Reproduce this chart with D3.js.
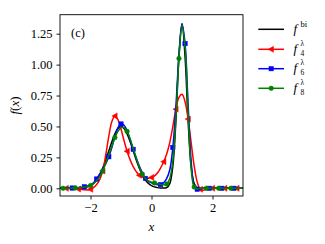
<!DOCTYPE html>
<html><head><meta charset="utf-8">
<script src="https://cdn.jsdelivr.net/npm/d3@7"></script>
<style>
body{margin:0;background:#fff}
svg{display:block}
svg text{font-family:"Liberation Serif","Times New Roman",Times,"DejaVu Serif",serif !important;fill:#000}
</style>
</head><body>
<svg id="chart" width="325" height="244"></svg>
<script>
// ---- data ----
const xGrid = [-3.0,-2.9,-2.8,-2.7,-2.6,-2.5,-2.4,-2.3,-2.2,-2.1,-2.0,-1.9,-1.8,-1.7,-1.6,-1.5,-1.4,-1.3,-1.2,-1.1,-1.0,-0.9,-0.8,-0.7,-0.6,-0.5,-0.4,-0.3,-0.2,-0.1,0.0,0.1,0.2,0.3,0.4,0.5,0.6,0.7,0.8,0.9,1.0,1.1,1.2,1.3,1.4,1.5,1.6,1.7,1.8,1.9,2.0,2.1,2.2,2.3,2.4,2.5,2.6,2.7,2.8,2.9,3.0];
const fBi = [0,0,0,0,0,0.0004,0.001,0.0025,0.0055,0.0114,0.0219,0.0397,0.0675,0.1079,0.1619,0.2283,0.3025,0.3764,0.4401,0.4834,0.4987,0.4834,0.4401,0.3764,0.3025,0.2283,0.1619,0.1079,0.0675,0.0397,0.0219,0.0114,0.0055,0.0025,0.0016,0.0055,0.038,0.18,0.547,1.065,1.33,1.065,0.547,0.18,0.038,0.005,0,0,0,0,0,0,0,0,0,0,0,0,0,0,0];
const f4 = [0,0,0,-0.001,-0.002,-0.004,-0.006,-0.009,-0.012,-0.013,-0.008,0.005,0.03,0.07,0.14,0.27,0.42,0.54,0.585,0.555,0.48,0.385,0.30,0.23,0.175,0.135,0.105,0.09,0.083,0.082,0.088,0.1,0.125,0.165,0.215,0.28,0.37,0.5,0.64,0.735,0.76,0.70,0.56,0.37,0.18,0.05,-0.008,-0.015,-0.01,-0.004,0,0,0,0,0,0,0,0,0,0,0];
const f6 = [0.003,0.003,0.002,0.002,0.002,0.003,0.005,0.008,0.012,0.018,0.028,0.045,0.075,0.115,0.16,0.2,0.255,0.33,0.42,0.49,0.52,0.51,0.465,0.39,0.315,0.245,0.18,0.125,0.08,0.058,0.045,0.035,0.028,0.03,0.045,0.08,0.15,0.33,0.66,1.08,1.33,1.17,0.68,0.22,0.02,-0.008,-0.005,0,0,0,0,0,0,0,0,0,0,0,0,0,0];
const f8 = [0,0,0.001,0.001,0.002,0.003,0.005,0.007,0.01,0.015,0.022,0.038,0.062,0.095,0.14,0.2,0.27,0.34,0.41,0.46,0.49,0.49,0.46,0.40,0.32,0.245,0.17,0.115,0.08,0.06,0.05,0.043,0.036,0.03,0.028,0.035,0.08,0.22,0.57,1.05,1.32,1.14,0.62,0.16,0.01,-0.005,0,0,0,0,0,0,0,0,0,0,0,0,0,0,0];
// x positions where each approximation carries a marker
const mark4 = [-2.8,-2.4,-2.0,-1.6,-1.2,-0.8,-0.4,0.0,0.4,0.8,1.2,1.6,2.0,2.4,2.8];
const mark6 = [-2.6,-2.2,-1.8,-1.4,-1.0,-0.6,-0.2,0.3,0.7,1.1,1.5,1.9,2.3,2.7];
const mark8 = [-2.9,-2.5,-2.0,-1.6,-1.2,-0.8,-0.3,0.1,0.5,0.9,1.4,1.8,2.2,2.6];
const yTicks = [0, 0.25, 0.5, 0.75, 1.0, 1.25];
const xTicks = [-2, 0, 2];

const series = [
  {key:"bi", ys:fBi, marks:null, color:"#000000", marker:null, sub:null, sup:"bi"},
  {key:"4", ys:f4, marks:mark4, color:"#ff0000", marker:"tri", sub:"4", sup:"λ"},
  {key:"6", ys:f6, marks:mark6, color:"#0000ff", marker:"sq", sub:"6", sup:"λ"},
  {key:"8", ys:f8, marks:mark8, color:"#008000", marker:"circ", sub:"8", sup:"λ"}
];

// ---- layout ----
const FONT = "'Liberation Serif','Times New Roman',Times,'DejaVu Serif',serif";
const L = 60, R = 243, T = 14.7, B = 196;
const svg = d3.select("#chart");
const x = d3.scaleLinear().domain([-3, 3]).range([L, R]);
const y = d3.scaleLinear().domain([-0.0623, 1.4036]).range([B, T]);

svg.append("defs").append("clipPath").attr("id","clip")
  .append("rect").attr("x",L).attr("y",T).attr("width",R-L).attr("height",B-T);

function drawMarker(g, type, cx, cy, color){
  if(type==="tri"){
    const s=3.0;
    g.append("path").attr("d",`M${cx-s},${cy} L${cx+s*0.75},${cy-s} L${cx+s*0.75},${cy+s} Z`)
      .attr("fill",color).attr("stroke",color).attr("stroke-width",0.5);
  } else if(type==="sq"){
    const s=2.2;
    g.append("rect").attr("x",cx-s).attr("y",cy-s).attr("width",2*s).attr("height",2*s)
      .attr("fill",color).attr("stroke",color).attr("stroke-width",0.5);
  } else if(type==="circ"){
    g.append("circle").attr("cx",cx).attr("cy",cy).attr("r",2.3)
      .attr("fill",color).attr("stroke",color).attr("stroke-width",0.5);
  }
}

const plot = svg.append("g").attr("clip-path","url(#clip)");
const line = d3.line().x(d=>x(d[0])).y(d=>y(d[1])).curve(d3.curveCatmullRom.alpha(0.5));
series.forEach(s=>{
  const pts = xGrid.map((xv,i)=>[xv, s.ys[i]]);
  plot.append("path").datum(pts).attr("d",line)
    .attr("fill","none").attr("stroke",s.color).attr("stroke-width",1.5)
    .attr("stroke-linejoin","round");
  if(s.marks){
    s.marks.forEach(mx=>{
      const i = xGrid.findIndex(v=>Math.abs(v-mx)<1e-6);
      drawMarker(plot, s.marker, x(xGrid[i]), y(s.ys[i]), s.color);
    });
  }
});

// frame
svg.append("rect").attr("x",L).attr("y",T).attr("width",R-L).attr("height",B-T)
  .attr("fill","none").attr("stroke","#000").attr("stroke-width",0.9);

// axes
const fmtY = d3.format(".2f");
const yAxis = svg.append("g").attr("transform",`translate(${L},0)`)
  .call(d3.axisLeft(y).tickValues(yTicks).tickFormat(fmtY).tickSize(3.5).tickPadding(4));
const xAxis = svg.append("g").attr("transform",`translate(0,${B})`)
  .call(d3.axisBottom(x).tickValues(xTicks).tickFormat(d3.format("d")).tickSize(3.5).tickPadding(4));
[yAxis,xAxis].forEach(a=>{
  a.attr("font-family",FONT).attr("font-size",12.5);
  a.select(".domain").remove();
  a.selectAll(".tick line").attr("stroke","#000").attr("stroke-width",0.9);
  a.selectAll(".tick text").attr("font-family",FONT).attr("font-size",12.5).attr("fill","#000");
});

// axis labels
const xl = svg.append("text").attr("x",x(0)).attr("y",231).attr("text-anchor","middle")
  .attr("font-family",FONT).attr("font-size",13);
xl.append("tspan").attr("font-style","italic").text("x");

const yl = svg.append("text").attr("transform","translate(19,105.5) rotate(-90)")
  .attr("text-anchor","middle").attr("font-family",FONT).attr("font-size",13);
yl.append("tspan").attr("font-style","italic").text("f");
yl.append("tspan").text("(");
yl.append("tspan").attr("font-style","italic").text("x");
yl.append("tspan").text(")");

// panel tag
svg.append("text").attr("x",71).attr("y",37).attr("font-family",FONT).attr("font-size",12.5).text("(c)");

// legend
const legY = [29.3, 49.3, 68.7, 88.3];
series.forEach((s,k)=>{
  const ly = legY[k];
  svg.append("line").attr("x1",258.3).attr("x2",284).attr("y1",ly).attr("y2",ly)
    .attr("stroke",s.color).attr("stroke-width",1.5);
  if(s.marker) drawMarker(svg, s.marker, 271.2, ly, s.color);
  svg.append("text").attr("x",293.5).attr("y",ly+3.5).attr("font-family",FONT).attr("font-size",13)
    .attr("font-style","italic").text("f");
  if(s.sub){
    svg.append("text").attr("x",300.5).attr("y",ly-3.6).attr("font-family",FONT).attr("font-size",7.5).text(s.sup);
    svg.append("text").attr("x",300.5).attr("y",ly+6.6).attr("font-family",FONT).attr("font-size",7.5).text(s.sub);
  } else {
    svg.append("text").attr("x",300.5).attr("y",ly-2.5).attr("font-family",FONT).attr("font-size",8.5).text(s.sup);
  }
});
</script>
</body></html>
